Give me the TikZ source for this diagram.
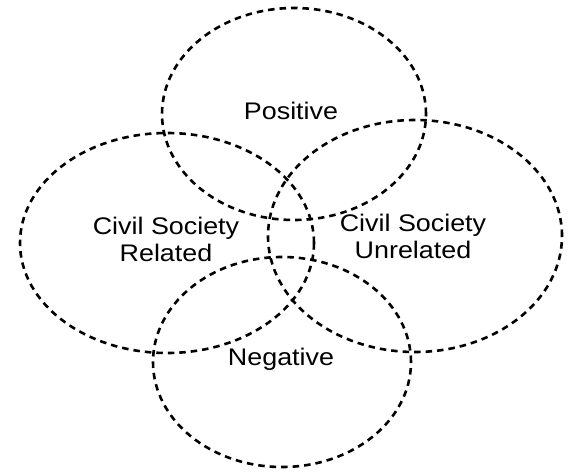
\documentclass[tikz,border=0pt]{standalone}
\usepackage{fontspec}
\setmainfont[FakeStretch=1.12]{Liberation Sans}
\usetikzlibrary{shapes.geometric}
\begin{document}
\begin{tikzpicture}[x=1pt,y=1pt,
  venn/.style={ellipse, draw=black, line width=2.6pt, dash pattern=on 6.5pt off 5pt, inner sep=0pt, outer sep=0pt},
  lbl/.style={font=\fontsize{24}{27}\selectfont, align=center, inner sep=0pt, text=black}]
\useasboundingbox (0,0) rectangle (572,472);
\node[venn, minimum width=264pt, minimum height=212pt] (pos) at (294,358) {};
\node[venn, minimum width=294pt, minimum height=220pt] (rel) at (167,229) {};
\node[venn, minimum width=294pt, minimum height=232pt] (unrel) at (415,236) {};
\node[venn, minimum width=258pt, minimum height=210pt] (neg) at (282,110) {};
\node[lbl] (tpos) at (291,361) {Positive};
\node[lbl] (trel) at (166,233) {Civil Society\\Related};
\node[lbl] (tunrel) at (413,236) {Civil Society\\Unrelated};
\node[lbl] (tneg) at (281,113) {Negative};
\end{tikzpicture}
\end{document}
